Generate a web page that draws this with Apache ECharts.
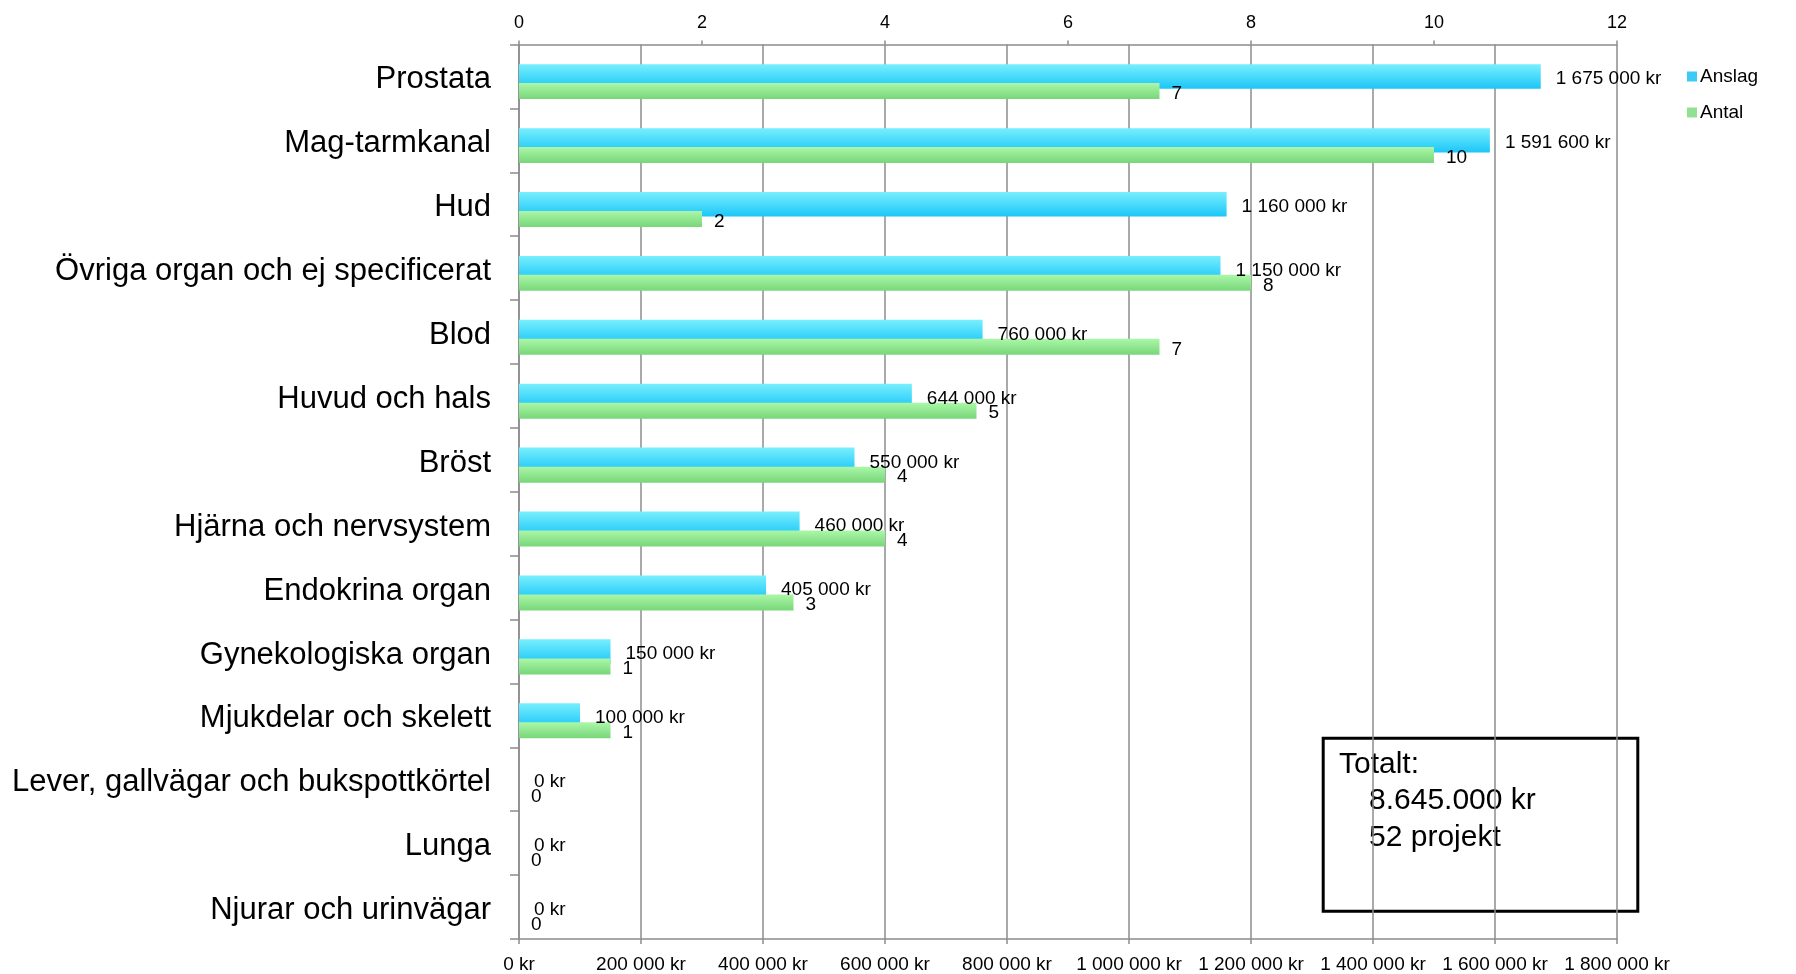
<!DOCTYPE html>
<html>
<head>
<meta charset="utf-8">
<script src="https://cdn.jsdelivr.net/npm/echarts@6/dist/echarts.min.js"></script>
<style>
html,body{margin:0;padding:0;background:#fff;}
#chart{width:1796px;height:974px;}
</style>
</head>
<body>
<div id="chart"></div>
<script>
const categories = ['Prostata','Mag-tarmkanal','Hud','Övriga organ och ej specificerat','Blod','Huvud och hals','Bröst','Hjärna och nervsystem','Endokrina organ','Gynekologiska organ','Mjukdelar och skelett','Lever, gallvägar och bukspottkörtel','Lunga','Njurar och urinvägar'];
const anslag = [1675000,1591600,1160000,1150000,760000,644000,550000,460000,405000,150000,100000,0,0,0];
const antal = [7,10,2,8,7,5,4,4,3,1,1,0,0,0];
const seriesNames = ['Anslag','Antal'];
const totalLines = ['Totalt:','8.645.000 kr','52 projekt'];

const FONT = '"Liberation Sans", Arial, Helvetica, sans-serif';
const GRAY = '#8c8c8c';
function kr(v){ return String(Math.round(v)).replace(/\B(?=(\d{3})+(?!\d))/g,' ') + ' kr'; }

const chart = echarts.init(document.getElementById('chart'), null, {renderer:'canvas'});
const option = {
  animation:false,
  backgroundColor:'#fff',
  textStyle:{fontFamily:FONT,color:'#000'},
  grid:[
    {left:519,right:179,top:44.5,bottom:34.5,containLabel:false},
    {left:519,right:179,top:59.1,bottom:19.9,containLabel:false}
  ],
  legend:{
    orient:'vertical', left:1687, top:67, padding:0, itemWidth:10, itemHeight:10, itemGap:17,
    icon:'rect',
    textStyle:{fontFamily:FONT,fontSize:19,color:'#000',padding:[0,0,0,-2]},
    data:[{name:seriesNames[0],itemStyle:{color:'#3ccbf6'}},{name:seriesNames[1],itemStyle:{color:'#92e092'}}]
  },
  xAxis:[
    {type:'value',gridIndex:0,position:'bottom',min:0,max:1800000,interval:200000,
     axisLine:{show:true,lineStyle:{color:GRAY,width:1.5}},
     axisTick:{show:true,length:5,lineStyle:{color:GRAY,width:1.5}},
     splitLine:{show:true,lineStyle:{color:GRAY,width:1.5}},
     axisLabel:{fontFamily:FONT,fontSize:19,color:'#000',margin:16,formatter:kr}},
    {type:'value',gridIndex:1,position:'top',offset:14.6,min:0,max:12,interval:2,
     axisLine:{show:true,lineStyle:{color:GRAY,width:1.5}},
     axisTick:{show:true,length:4,lineStyle:{color:GRAY,width:1.5}},
     splitLine:{show:false},
     axisLabel:{fontFamily:FONT,fontSize:18,color:'#000',margin:12}}
  ],
  yAxis:[
    {type:'category',gridIndex:0,data:categories,inverse:true,
     axisLine:{show:true,lineStyle:{color:GRAY,width:1.5}},
     axisTick:{show:true,length:9,lineStyle:{color:GRAY,width:1.5}},
     splitLine:{show:false},
     axisLabel:{fontFamily:FONT,fontSize:31,color:'#000',margin:28,verticalAlign:'top',lineHeight:7}},
    {type:'category',gridIndex:1,data:categories,inverse:true,show:false,
     axisLine:{show:false},axisTick:{show:false},axisLabel:{show:false},splitLine:{show:false}}
  ],
  series:[
    {name:seriesNames[0],type:'bar',xAxisIndex:0,yAxisIndex:0,data:anslag,barWidth:24.4,
     itemStyle:{color:new echarts.graphic.LinearGradient(0,0,0,1,[{offset:0,color:'#78effd'},{offset:1,color:'#1cc6f8'}])},
     label:{show:true,position:'right',distance:15,offset:[0,2.5],fontFamily:FONT,fontSize:19,color:'#000',formatter:p=>kr(p.value)}},
    {name:seriesNames[1],type:'bar',xAxisIndex:1,yAxisIndex:1,data:antal,barWidth:16,
     itemStyle:{color:new echarts.graphic.LinearGradient(0,0,0,1,[{offset:0,color:'#abf7a9'},{offset:1,color:'#78d678'}])},
     label:{show:true,position:'right',distance:12,offset:[0,2.5],fontFamily:FONT,fontSize:19,color:'#000'}}
  ],
  graphic:[
    {type:'group',z:100,children:[
      {type:'rect',shape:{x:1323.2,y:738.2,width:314.6,height:173},style:{fill:'#fff',stroke:'#000',lineWidth:3}},
      {type:'text',style:{x:1339,y:764.5,text:totalLines[0],font:'30px '+FONT,fill:'#000',verticalAlign:'middle'}},
      {type:'text',style:{x:1369,y:801,text:totalLines[1],font:'30px '+FONT,fill:'#000',verticalAlign:'middle'}},
      {type:'text',style:{x:1369,y:838,text:totalLines[2],font:'30px '+FONT,fill:'#000',verticalAlign:'middle'}}
    ]}
  ]
};
chart.setOption(option);
</script>
</body>
</html>
